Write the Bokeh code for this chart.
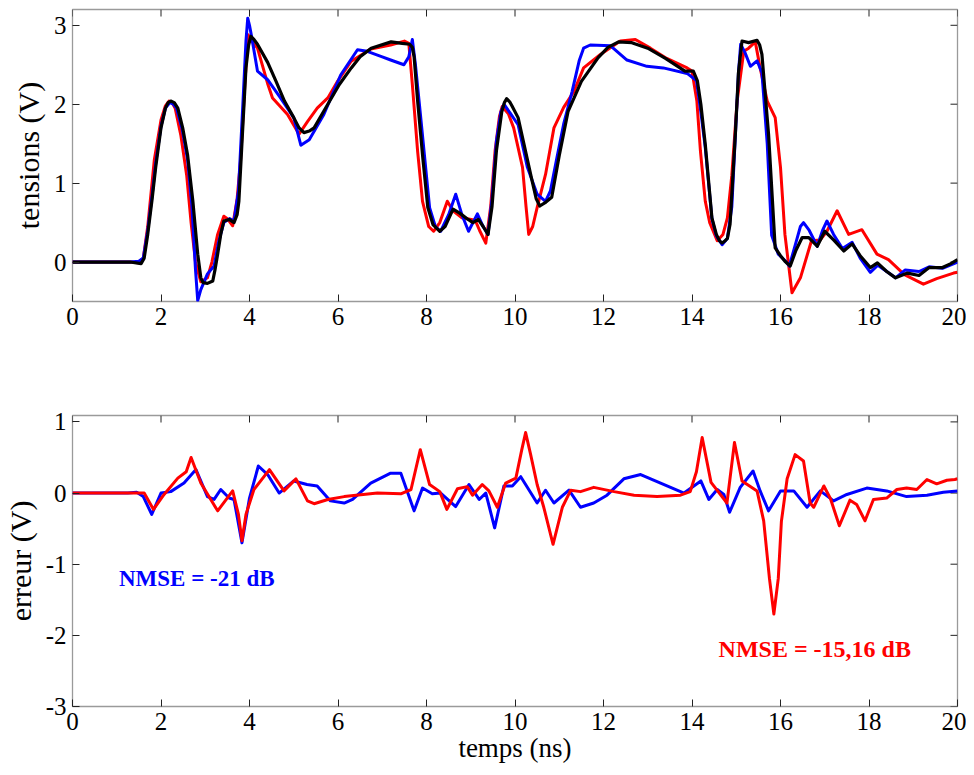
import math
from bokeh.plotting import figure
from bokeh.layouts import column
from bokeh.models import Range1d, FixedTicker, Label
from bokeh.embed import file_html
from bokeh.resources import INLINE

# ---------------- data ----------------
x_ticks = [0, 2, 4, 6, 8, 10, 12, 14, 16, 18, 20]
top_y_ticks = [0, 1, 2, 3]
bot_y_ticks = [-3, -2, -1, 0, 1]
bot_y_labels = {-3: "-3", -2: "-2", -1: "-1", 0: "0", 1: "1"}

black_t = [0, 1.3, 1.55, 1.62, 1.7, 1.8, 1.88, 2.0, 2.1, 2.16, 2.22, 2.3, 2.38, 2.49, 2.6, 2.72, 2.83,
           2.9, 2.95, 3.05, 3.17, 3.22, 3.28, 3.35,
           3.42, 3.54, 3.65, 3.72, 3.76, 3.84, 3.92, 3.98, 4.03, 4.1, 4.18, 4.41, 4.6, 4.79, 5.0, 5.12,
           5.23, 5.35, 5.46, 5.77, 6.03,
           6.3, 6.5, 6.75, 7.2, 7.45, 7.62, 7.68, 7.72, 7.8, 7.92, 8.03, 8.15, 8.3, 8.42, 8.6, 8.75, 8.94, 9.05,
           9.17, 9.28, 9.39, 9.48, 9.58, 9.7, 9.76, 9.81, 9.88, 9.93, 10.07, 10.2, 10.37, 10.48, 10.56, 10.7, 10.83,
           11.0, 11.2, 11.5, 11.88, 12.1, 12.34, 12.64, 13.0, 13.4, 13.84, 14.03, 14.12, 14.2, 14.3,
           14.45, 14.55, 14.62, 14.68, 14.75, 14.8, 14.86, 14.98, 15.05, 15.13, 15.28, 15.47, 15.53, 15.58, 15.73, 15.88,
           16.0, 16.1, 16.22, 16.35, 16.49, 16.64, 16.83, 17.0, 17.2, 17.43, 17.62, 17.8, 18.03, 18.19,
           18.4, 18.6, 18.87, 19.13, 19.36, 19.66, 19.85, 20.0]
black_v = [0, 0, -0.02, 0.05, 0.35, 0.8, 1.2, 1.7, 1.95, 2.02, 2.04, 2.02, 1.95, 1.7, 1.36, 0.77, 0.1,
           -0.2, -0.26, -0.27, -0.24, -0.1, 0.1, 0.35,
           0.52, 0.54, 0.5, 0.6, 0.77, 1.62, 2.46, 2.75, 2.86, 2.82, 2.76, 2.53, 2.29, 2.04, 1.83, 1.7,
           1.64, 1.66, 1.7, 2.0, 2.25,
           2.46, 2.6, 2.71, 2.79, 2.77, 2.76, 2.72, 2.6, 2.04, 1.3, 0.69, 0.47, 0.39, 0.45, 0.67, 0.62, 0.54, 0.5,
           0.54, 0.45, 0.35, 0.7, 1.41, 1.9, 2.02, 2.07, 2.03, 1.98, 1.83, 1.5, 1.07, 0.8, 0.71, 0.76, 0.82,
           1.35, 1.91, 2.29, 2.59, 2.72, 2.79, 2.78, 2.71, 2.58, 2.42, 2.42, 2.3, 2.0, 1.49,
           0.56, 0.35, 0.27, 0.24, 0.27, 0.3, 0.48, 1.62, 2.4, 2.8, 2.78, 2.81, 2.75, 2.63, 1.62, 0.18,
           0.08, 0.01, -0.05, 0.15, 0.31, 0.31, 0.2, 0.39, 0.28, 0.14, 0.23, 0.08, -0.07, -0.01,
           -0.12, -0.2, -0.14, -0.17, -0.07, -0.07, -0.02, 0.03]

blue_t = [0, 1.3, 1.5, 1.6, 1.7, 1.8, 1.88, 2.0, 2.1, 2.2, 2.28, 2.35, 2.48, 2.6, 2.7, 2.78, 2.83, 2.9, 3.05, 3.2,
          3.3, 3.42, 3.55, 3.65, 3.75, 3.85, 3.92, 3.96, 4.0, 4.05, 4.18, 4.41, 4.7, 5.0, 5.16, 5.35, 5.68, 6.06,
          6.44, 6.66, 7.0, 7.19, 7.49, 7.6, 7.68, 7.75, 7.87, 8.07, 8.2, 8.32, 8.5, 8.66, 8.8, 8.95,
          9.15, 9.28, 9.39, 9.48, 9.58, 9.68, 9.75, 9.9, 10.07, 10.28, 10.5, 10.69, 10.8, 10.95, 11.1, 11.29,
          11.45, 11.55, 11.7, 12.16, 12.53, 12.98, 13.35, 13.89, 14.1, 14.2, 14.3, 14.45, 14.55, 14.68,
          14.8, 14.9, 14.98, 15.05, 15.1, 15.2, 15.32, 15.47, 15.58, 15.7, 15.8, 15.95, 16.1, 16.2, 16.35,
          16.45, 16.52, 16.65, 16.83, 16.95, 17.05, 17.2, 17.4, 17.62, 17.8, 18.03, 18.2, 18.4, 18.6, 18.82,
          19.13, 19.36, 19.66, 19.96, 20.0]
blue_v = [0, 0, 0.01, 0.05, 0.4, 0.85, 1.25, 1.72, 1.95, 2.02, 2.0, 1.95, 1.68, 1.3, 0.7, -0.1, -0.49, -0.35, -0.15, -0.05,
          0.25, 0.5, 0.55, 0.52, 0.9, 2.0, 2.8, 3.09, 3.0, 2.85, 2.42, 2.31, 2.08, 1.83, 1.48, 1.55, 1.87, 2.37,
          2.69, 2.67, 2.6, 2.56, 2.5, 2.6, 2.82, 2.5, 1.83, 0.69, 0.45, 0.39, 0.6, 0.86, 0.6, 0.39,
          0.61, 0.45, 0.35, 0.8, 1.53, 1.9, 2.0, 1.88, 1.74, 1.2, 0.86, 0.77, 0.9, 1.33, 1.75, 2.16,
          2.55, 2.71, 2.75, 2.74, 2.56, 2.48, 2.46, 2.39, 2.3, 1.9, 1.45, 0.55, 0.33, 0.22,
          0.3, 0.7, 1.6, 2.4, 2.76, 2.65, 2.48, 2.55, 2.4, 1.5, 0.34, 0.1, 0.02, -0.05, 0.25,
          0.45, 0.5, 0.4, 0.2, 0.4, 0.52, 0.35, 0.17, 0.25, 0.05, -0.13, -0.04, -0.12, -0.2, -0.1,
          -0.12, -0.06, -0.08, -0.01, 0.0]

red_t = [0, 1.3, 1.5, 1.6, 1.7, 1.85, 2.0, 2.1, 2.18, 2.25, 2.32, 2.45, 2.58, 2.68, 2.78, 2.9, 3.05, 3.15,
         3.28, 3.42, 3.5, 3.62, 3.72, 3.8, 3.9, 3.97, 4.05, 4.18, 4.41, 4.52, 4.86, 5.12, 5.31, 5.53, 5.77,
         5.99, 6.29, 6.74, 7.19, 7.5, 7.6, 7.68, 7.8, 7.91, 8.05, 8.16, 8.3, 8.47, 8.6, 8.8, 9.1, 9.2,
         9.34, 9.45, 9.55, 9.65, 9.71, 9.85, 9.97, 10.17, 10.25, 10.31, 10.4, 10.5, 10.69, 10.88, 11.1,
         11.33, 11.55, 11.93, 12.38, 12.72, 13.06, 13.43, 13.89, 14.0, 14.11, 14.19, 14.3, 14.4,
         14.57, 14.7, 14.8, 14.9, 15.02, 15.17, 15.28, 15.43, 15.54, 15.7, 15.88, 16.0, 16.1, 16.26,
         16.45, 16.7, 16.9, 17.05, 17.28, 17.54, 17.84, 18.18, 18.44, 18.8, 19.23, 19.53, 19.91, 20.0]
red_v = [0, 0, -0.01, 0.05, 0.45, 1.3, 1.8, 1.98, 2.04, 2.02, 1.95, 1.6, 1.1, 0.5, 0.0, -0.25, -0.2, 0.0,
         0.35, 0.58, 0.55, 0.46, 0.8, 1.3, 2.3, 2.88, 2.8, 2.71, 2.26, 2.08, 1.87, 1.62, 1.78, 1.95, 2.08,
         2.29, 2.54, 2.7, 2.75, 2.8, 2.77, 2.25, 1.4, 0.77, 0.45, 0.39, 0.5, 0.77, 0.65, 0.56, 0.53, 0.4,
         0.24, 0.7, 1.41, 1.85, 1.97, 1.88, 1.7, 1.2, 0.7, 0.35, 0.45, 0.69, 1.11, 1.7, 1.96,
         2.16, 2.46, 2.63, 2.8, 2.82, 2.71, 2.58, 2.46, 2.42, 2.04, 1.41, 0.77, 0.5,
         0.27, 0.35, 0.56, 1.1, 2.04, 2.67, 2.71, 2.79, 2.46, 2.04, 1.83, 1.2, 0.35, -0.39,
         -0.2, 0.27, 0.28, 0.39, 0.65, 0.35, 0.41, 0.1, 0.03, -0.16, -0.28, -0.21, -0.14, -0.13]

err_red_t = [0, 1.62, 1.83, 2.07, 2.38, 2.57, 2.68, 2.9, 3.28, 3.62, 3.75, 3.83, 3.92, 4.1, 4.45, 4.78, 5.05, 5.31,
             5.46, 5.77, 6.14, 6.89, 7.42, 7.65, 7.86, 8.07, 8.3, 8.46, 8.7, 8.92, 9.04, 9.26, 9.41, 9.6,
             9.79, 10.02, 10.15, 10.24, 10.35, 10.5, 10.65, 10.86, 11.07, 11.26, 11.48, 11.78, 12.24, 12.69, 13.21,
             13.74, 13.96, 14.1, 14.23, 14.43, 14.79, 14.96, 15.13, 15.47, 15.62, 15.75, 15.85, 15.95, 16.02, 16.15,
             16.33, 16.52, 16.67, 16.75, 16.98, 17.13, 17.33, 17.57, 17.72, 17.91, 18.1, 18.4, 18.63,
             18.85, 19.08, 19.31, 19.53, 19.76, 19.94, 20.0]
err_red_v = [0, 0, -0.23, -0.02, 0.21, 0.3, 0.5, 0.14, -0.25, 0.03, -0.3, -0.67, -0.3, 0.05, 0.33, 0.03, 0.2, -0.11,
             -0.15, -0.09, -0.05, 0.0, -0.01, 0.05, 0.61, 0.12, 0.02, -0.23, 0.06, 0.09, -0.03, 0.12, 0.03, -0.2,
             0.14, 0.21, 0.6, 0.85, 0.55, 0.12, -0.2, -0.72, -0.2, 0.04, 0.02, 0.08, 0.02, -0.03, -0.05,
             -0.03, 0.02, 0.3, 0.78, 0.15, -0.14, 0.71, 0.17, 0.03, -0.39, -1.2, -1.7, -1.2, -0.4, 0.2,
             0.54, 0.45, -0.14, -0.2, 0.1, -0.08, -0.46, -0.1, -0.16, -0.39, -0.09, -0.07, 0.05,
             0.07, 0.05, 0.19, 0.13, 0.18, 0.19, 0.2]

err_blue_t = [0, 1.25, 1.45, 1.6, 1.79, 2.0, 2.22, 2.52, 2.79, 3.05, 3.2, 3.35, 3.54, 3.65, 3.83, 4.0,
              4.2, 4.41, 4.67, 5.0, 5.3, 5.53, 5.83, 6.14, 6.33, 6.74, 7.19, 7.42, 7.72, 7.91, 8.13,
              8.32, 8.66, 8.96, 9.19, 9.34, 9.54, 9.75, 9.94, 10.13, 10.5, 10.69, 10.88, 11.22, 11.48,
              11.78, 12.08, 12.46, 12.84, 13.29, 13.82, 14.2, 14.38, 14.57, 14.72, 14.85, 15.09, 15.38,
              15.54, 15.73, 16.0, 16.3, 16.6, 16.9, 17.2, 17.5, 17.95, 18.4, 18.85, 19.31, 19.68, 20.0]
err_blue_v = [0, 0, 0.01, -0.05, -0.3, 0.0, 0.02, 0.14, 0.33, -0.05, -0.09, 0.05, -0.07, -0.09, -0.7, -0.07,
              0.38, 0.26, 0.0, 0.17, 0.12, 0.1, -0.11, -0.14, -0.09, 0.14, 0.28, 0.28, -0.25, 0.07, -0.01,
              0.0, -0.19, 0.12, -0.09, 0.0, -0.49, 0.1, 0.1, 0.23, -0.14, 0.04, -0.14, 0.04, -0.2,
              -0.14, -0.03, 0.2, 0.26, 0.14, 0.0, 0.17, -0.09, 0.05, -0.02, -0.27, 0.08, 0.31,
              0.03, -0.25, 0.03, 0.03, -0.2, 0.03, -0.11, -0.02, 0.07, 0.03, -0.05, -0.03, 0.01, 0.03]

nmse_blue = "NMSE = -21 dB"
nmse_red = "NMSE = -15,16 dB"

# ---------------- styling ----------------
FONT = "Liberation Serif"
TICK_PX = "25px"
FRAME_COL = "#9a9a9a"
TICK_COL = "#222222"
TICK_LEN = 7


def style_axis(ax):
    ax.axis_line_color = None
    ax.major_tick_in = TICK_LEN
    ax.major_tick_out = 0
    ax.minor_tick_line_color = None
    ax.major_tick_line_color = TICK_COL
    ax.major_label_text_font = FONT
    ax.major_label_text_font_size = TICK_PX
    ax.major_label_text_color = "black"
    ax.axis_label_text_font = FONT
    ax.axis_label_text_font_style = "normal"
    ax.axis_label_text_color = "black"


def make_fig(height, yr, yticks, ylabel, top_border, bottom_border, xlabel=None):
    p = figure(width=966, height=height, x_range=Range1d(0, 20), y_range=Range1d(*yr),
               output_backend="svg", toolbar_location=None,
               min_border_left=71, min_border_right=9,
               min_border_top=top_border, min_border_bottom=bottom_border)
    p.xgrid.visible = False
    p.ygrid.visible = False
    p.outline_line_color = FRAME_COL
    p.outline_line_width = 1.3
    p.background_fill_color = "white"
    p.border_fill_color = "white"
    p.xaxis.ticker = FixedTicker(ticks=x_ticks)
    p.yaxis.ticker = FixedTicker(ticks=yticks)
    style_axis(p.xaxis[0])
    style_axis(p.yaxis[0])
    p.xaxis.major_label_standoff = 6
    p.yaxis.major_label_standoff = 6
    p.yaxis.axis_label = ylabel
    p.yaxis.axis_label_text_font_size = "30px"
    p.yaxis.axis_label_standoff = 6
    if xlabel:
        p.xaxis.axis_label = xlabel
        p.xaxis.axis_label_text_font_size = "27px"
        p.xaxis.axis_label_standoff = 0
    # inward ticks on the top and right edges of the box (MATLAB style)
    ymax = yr[1]
    p.ray(x=x_ticks, y=[ymax] * len(x_ticks), length=TICK_LEN, length_units="screen",
          angle=-math.pi / 2, line_color=TICK_COL, line_width=1)
    p.ray(x=[20] * len(yticks), y=yticks, length=TICK_LEN, length_units="screen",
          angle=math.pi, line_color=TICK_COL, line_width=1)
    return p


p1 = make_fig(348, (-0.5, 3.2), top_y_ticks, "tensions (V)", 9, 47)
p1.line(red_t, red_v, line_color="#ff0000", line_width=3, line_join="round")
p1.line(blue_t, blue_v, line_color="#0000ff", line_width=3, line_join="round")
p1.line(black_t, black_v, line_color="#000000", line_width=3.2, line_join="round")

p2 = make_fig(425, (-3, 1.09), bot_y_ticks, "erreur (V)", 67, 67, xlabel="temps (ns)")
p2.yaxis.major_label_overrides = bot_y_labels
p2.line(err_blue_t, err_blue_v, line_color="#0000ff", line_width=3, line_join="round")
p2.line(err_red_t, err_red_v, line_color="#ff0000", line_width=3, line_join="round")

p2.add_layout(Label(x=1.05, y=-1.2, text=nmse_blue, text_color="#0000ff", text_font=FONT,
                    text_font_size="23px", text_font_style="bold", text_baseline="middle"))
p2.add_layout(Label(x=14.6, y=-2.19, text=nmse_red, text_color="#ff0000", text_font=FONT,
                    text_font_size="24px", text_font_style="bold", text_baseline="middle"))

layout = column(p1, p2, spacing=0)
open("out.html", "w").write(file_html(layout, INLINE))
